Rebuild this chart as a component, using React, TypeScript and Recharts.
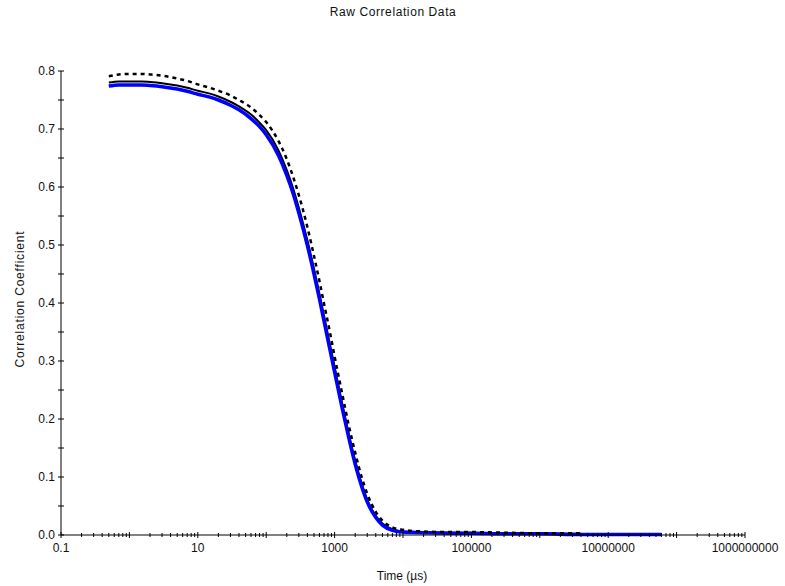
import React from "react";
import { LineChart, Line, XAxis, YAxis } from "recharts";

// lag times (µs)
const TIMES = [
  0.5, 0.7, 1, 1.5, 2, 3, 5, 7, 10, 15, 20, 30, 40, 60, 80, 100, 150, 200, 250,
  300, 400, 500, 600, 700, 850, 1000, 1300, 1600, 2000, 2500, 3000, 4000, 5000,
  7000, 10000, 20000, 50000, 100000, 300000, 1000000, 4000000, 10000000,
  60000000,
];

// black dotted run
const DOTTED = [
  0.791, 0.794, 0.795, 0.795, 0.794, 0.792, 0.787, 0.783, 0.777, 0.771, 0.766,
  0.758, 0.75, 0.737, 0.724, 0.712, 0.68, 0.648, 0.616, 0.586, 0.531, 0.481,
  0.438, 0.399, 0.351, 0.308, 0.242, 0.191, 0.142, 0.099, 0.071, 0.04, 0.025,
  0.013, 0.009, 0.006, 0.005, 0.005, 0.004, 0.003, 0.003, null, null,
];

// black solid run
const SOLID = [
  0.78, 0.782, 0.782, 0.782, 0.781, 0.779, 0.775, 0.771, 0.766, 0.761, 0.756,
  0.747, 0.739, 0.725, 0.711, 0.698, 0.664, 0.629, 0.596, 0.564, 0.508, 0.459,
  0.416, 0.378, 0.33, 0.29, 0.225, 0.176, 0.128, 0.088, 0.061, 0.033, 0.02,
  0.01, 0.006, 0.005, 0.004, 0.004, 0.003, 0.003, 0.002, null, null,
];

// blue run
const BLUE = [
  0.774, 0.776, 0.776, 0.776, 0.775, 0.773, 0.769, 0.765, 0.76, 0.755, 0.75,
  0.741, 0.733, 0.718, 0.704, 0.69, 0.655, 0.62, 0.587, 0.555, 0.499, 0.45,
  0.407, 0.369, 0.321, 0.281, 0.217, 0.169, 0.122, 0.083, 0.057, 0.03, 0.017,
  0.008, 0.005, 0.004, 0.003, 0.003, 0.002, 0.002, 0.001, 0.001, 0.001,
];

const DECADES = [0.1, 1, 10, 100, 1000, 10000, 100000, 1000000, 10000000, 100000000, 1000000000];
const X_LABELS = ["0.1", "10", "1000", "100000", "10000000", "1000000000"];
const Y_LABELS = ["0.0", "0.1", "0.2", "0.3", "0.4", "0.5", "0.6", "0.7", "0.8"];
const Y_TICKS = [0, 0.05, 0.1, 0.15, 0.2, 0.25, 0.3, 0.35, 0.4, 0.45, 0.5, 0.55, 0.6, 0.65, 0.7, 0.75, 0.8];

const X_TICKS = [
  ...DECADES,
  ...DECADES.slice(0, -1).flatMap((d) => [2, 3, 4, 5, 6, 7, 8, 9].map((m) => m * d)),
];

const data = TIMES.map((t, i) => ({
  t,
  dotted: DOTTED[i],
  solid: SOLID[i],
  blue: BLUE[i],
}));

const FONT = "'Liberation Sans', Arial, sans-serif";

function fmtX(v: number) {
  return v < 1 ? v.toFixed(1) : String(Math.round(v));
}

function XTick(props: any) {
  const { x, y, payload } = props;
  const v = payload.value as number;
  const major = DECADES.some((d) => Math.abs(v / d - 1) < 1e-6);
  const label = major && X_LABELS.includes(fmtX(v)) ? fmtX(v) : null;
  const h = major ? 3 : 2;
  return (
    <g>
      <line x1={x} x2={x} y1={y - h} y2={y + h} stroke="#000" />
      {label && (
        <text x={x} y={y + 17} textAnchor="middle" fontSize={12} fontFamily={FONT} fill="#111">
          {label}
        </text>
      )}
    </g>
  );
}

function YTick(props: any) {
  const { x, y, payload } = props;
  const v = payload.value as number;
  const idx = Math.round(v * 10);
  const label = Math.abs(v * 10 - idx) < 1e-6 ? Y_LABELS[idx] : null;
  return (
    <g>
      <line x1={x - 3} x2={x + 3} y1={y} y2={y} stroke="#000" />
      {label && (
        <text x={x - 6} y={y + 4} textAnchor="end" fontSize={12} fontFamily={FONT} fill="#111">
          {label}
        </text>
      )}
    </g>
  );
}

export default function App() {
  return (
    <div style={{ position: "absolute", left: 0, top: 0, width: 785, height: 586, background: "#fff", fontFamily: FONT }}>
      <div style={{ position: "absolute", left: 0, width: 786, top: 5, textAlign: "center", fontSize: 12, letterSpacing: 0.6, color: "#111" }}>
        Raw Correlation Data
      </div>
      <LineChart width={785} height={586} data={data} margin={{ top: 71, right: 40, left: 0, bottom: 21 }}>
        <XAxis
          dataKey="t"
          type="number"
          scale="log"
          domain={[0.1, 1000000000]}
          allowDataOverflow
          ticks={X_TICKS}
          interval={0}
          tick={<XTick />}
          tickLine={false}
          tickSize={0}
          tickMargin={0}
          height={30}
          axisLine={{ stroke: "#000" }}
        />
        <YAxis
          type="number"
          domain={[0, 0.8]}
          ticks={Y_TICKS}
          interval={0}
          tick={<YTick />}
          tickLine={false}
          tickSize={0}
          tickMargin={0}
          width={61}
          axisLine={{ stroke: "#000" }}
        />
        <Line dataKey="solid" type="monotone" stroke="#000" strokeWidth={2} dot={false} isAnimationActive={false} />
        <Line dataKey="blue" type="monotone" stroke="#0000ff" strokeWidth={3.5} dot={false} isAnimationActive={false} />
        <Line dataKey="dotted" type="monotone" stroke="#000" strokeWidth={2.5} strokeDasharray="4 4" dot={false} isAnimationActive={false} />
      </LineChart>
      <div style={{ position: "absolute", left: 302, width: 200, top: 569, textAlign: "center", fontSize: 12, color: "#111" }}>
        Time (µs)
      </div>
      <div
        style={{
          position: "absolute",
          left: 20,
          top: 299,
          transform: "translate(-50%, -50%) rotate(-90deg)",
          whiteSpace: "nowrap",
          fontSize: 12,
          letterSpacing: 0.8,
          color: "#111",
        }}
      >
        Correlation Coefficient
      </div>
    </div>
  );
}
